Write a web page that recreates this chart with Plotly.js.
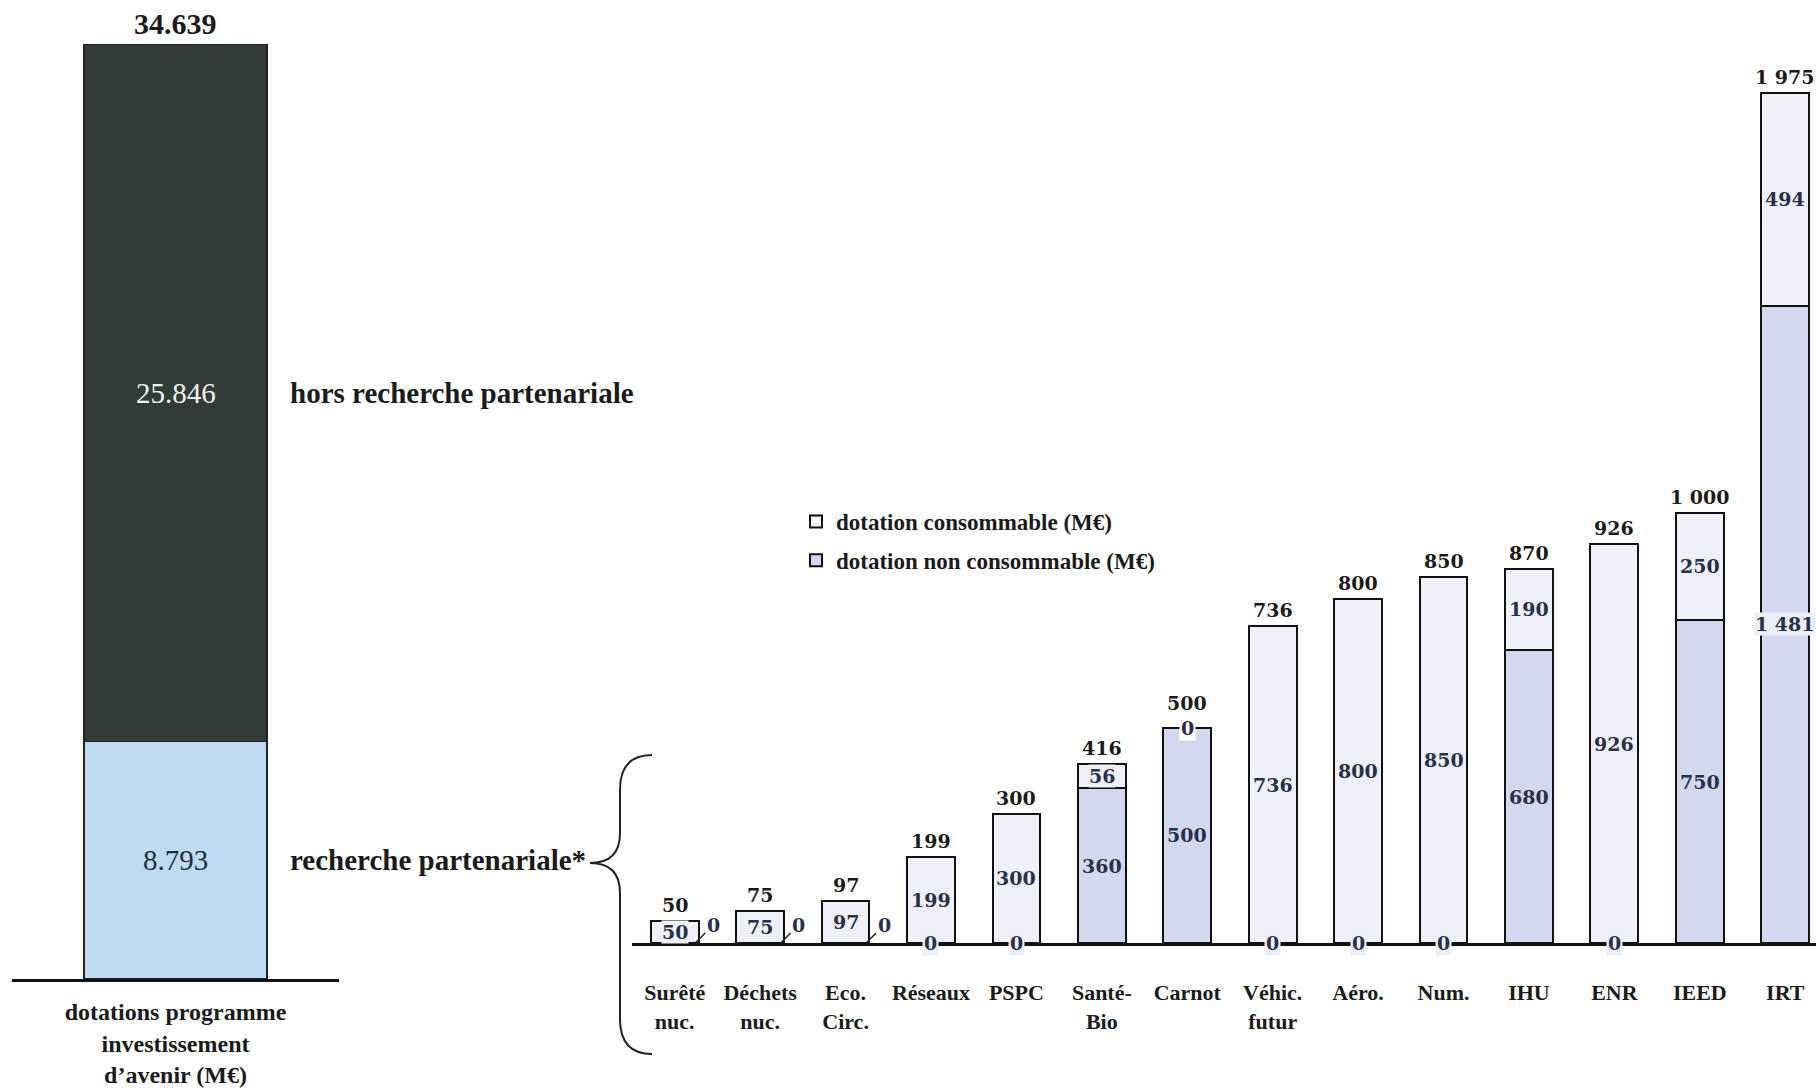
<!DOCTYPE html>
<html>
<head>
<meta charset="utf-8">
<script src="https://cdn.plot.ly/plotly-3.0.1.min.js"></script>
<style>html,body{margin:0;padding:0;background:#fff;}#chart{width:1816px;height:1092px;}</style>
</head>
<body>
<div id="chart"></div>
<script>
// ---- data ----
const leftCategory = ["dotations programme<br>investissement<br>d\u2019avenir (M€)"];
const recherchePartenariale = [8793];
const horsRecherchePartenariale = [25846];
const leftSegmentNames = ["recherche partenariale*", "hors recherche partenariale"];

const categories = ["Surêté<br>nuc.", "Déchets<br>nuc.", "Eco.<br>Circ.", "Réseaux", "PSPC", "Santé-<br>Bio",
  "Carnot", "Véhic.<br>futur", "Aéro.", "Num.", "IHU", "ENR", "IEED", "IRT"];
const dotationConsommable = [50, 75, 97, 199, 300, 56, 0, 736, 800, 850, 190, 926, 250, 494];
const dotationNonConsommable = [0, 0, 0, 0, 0, 360, 500, 0, 0, 0, 680, 0, 750, 1481];
const seriesNames = ["dotation consommable (M€)", "dotation non consommable (M€)"];

// ---- styling ----
const W = 1816, H = 1092;
const serif = "Liberation Serif";
const numFont = "DejaVu Serif";
const ink = "#1b1b1b";
const numInk = "#27304a";
const colCons = "#eff0fa";
const colNon = "#d4d8ef";
const colDark = "#313c38";
const colLight = "#bfdbf1";

const fmt = (n, sep) => String(n).replace(/\B(?=(\d{3})+(?!\d))/g, sep);
const px = x => x / W;
const py = y => 1 - y / H;

const leftTotal = recherchePartenariale[0] + horsRecherchePartenariale[0];

const traces = [
  {type: 'bar', x: leftCategory, y: recherchePartenariale, name: leftSegmentNames[0], xaxis: 'x', yaxis: 'y',
   marker: {color: colLight, line: {color: '#222', width: 1.5}}, width: 0.56, showlegend: false, hoverinfo: 'y'},
  {type: 'bar', x: leftCategory, y: horsRecherchePartenariale, name: leftSegmentNames[1], xaxis: 'x', yaxis: 'y',
   marker: {color: colDark, line: {color: '#222', width: 1.5}}, width: 0.56, showlegend: false, hoverinfo: 'y'},
  {type: 'bar', x: categories, y: dotationNonConsommable, name: seriesNames[1], xaxis: 'x2', yaxis: 'y2',
   legendgroup: 'non', legendrank: 2, marker: {color: colNon, line: {color: '#111', width: 2}}, width: 0.56},
  {type: 'bar', x: categories, y: dotationConsommable, name: seriesNames[0], xaxis: 'x2', yaxis: 'y2',
   legendgroup: 'cons', legendrank: 1, marker: {color: colCons, line: {color: '#111', width: 2}}, width: 0.56}
];

const annotations = [];
const numStyle = {family: numFont, size: 19, color: numInk, weight: 700};
const topStyle = {family: numFont, size: 19, color: ink, weight: 700};

// left bar labels
annotations.push({xref: 'x', yref: 'y', x: leftCategory[0], y: leftTotal, yanchor: 'bottom', yshift: 2, showarrow: false,
  text: fmt(leftTotal, '.'), font: {family: serif, size: 30, color: ink, weight: 700}});
annotations.push({xref: 'x', yref: 'y', x: leftCategory[0], y: recherchePartenariale[0] + horsRecherchePartenariale[0] / 2, showarrow: false,
  text: fmt(horsRecherchePartenariale[0], '.'), font: {family: serif, size: 29, color: '#f2f2f2'}});
annotations.push({xref: 'x', yref: 'y', x: leftCategory[0], y: recherchePartenariale[0] / 2, showarrow: false,
  text: fmt(recherchePartenariale[0], '.'), font: {family: serif, size: 29, color: '#1e2d45'}});
annotations.push({xref: 'paper', yref: 'y', x: px(288), xanchor: 'left', y: recherchePartenariale[0] + horsRecherchePartenariale[0] / 2, showarrow: false,
  text: leftSegmentNames[1], font: {family: serif, size: 29, color: ink, weight: 700}});
annotations.push({xref: 'paper', yref: 'y', x: px(288), xanchor: 'left', y: recherchePartenariale[0] / 2, showarrow: false,
  text: leftSegmentNames[0], font: {family: serif, size: 29, color: ink, weight: 700}});

// right bar labels
categories.forEach((c, i) => {
  const non = dotationNonConsommable[i], cons = dotationConsommable[i], tot = non + cons;
  annotations.push({xref: 'x2', yref: 'y2', x: c, y: tot, yanchor: 'bottom', yshift: cons === 0 ? 12 : 3, showarrow: false,
    text: fmt(tot, ' '), font: topStyle});
  if (cons > 0) annotations.push({xref: 'x2', yref: 'y2', x: c, y: non + cons / 2, showarrow: false,
    text: fmt(cons, ' '), font: numStyle, bgcolor: colCons, borderpad: 0});
  if (non > 0) annotations.push({xref: 'x2', yref: 'y2', x: c, y: non / 2, showarrow: false,
    text: fmt(non, ' '), font: numStyle, bgcolor: non >= 1000 ? '#eceef8' : colNon, borderpad: 0});
  if (non === 0 && cons < 150) {
    annotations.push({xref: 'x2', yref: 'y2', x: i + 0.24, y: 0, showarrow: true, arrowhead: 0, arrowwidth: 1.5,
      arrowcolor: '#222', ax: 18, ay: -18, text: '0', font: numStyle});
  } else if (non === 0) {
    annotations.push({xref: 'x2', yref: 'y2', x: c, y: 0, showarrow: false, text: '0', font: numStyle,
      bgcolor: '#eef0f8', borderpad: 1});
  } else if (cons === 0) {
    annotations.push({xref: 'x2', yref: 'y2', x: c, y: tot, showarrow: false, text: '0', font: numStyle,
      bgcolor: '#ffffff', borderpad: 1});
  }
});

// curly brace
const bp = [[652,755],[620,755],[620,790],[620,833],[620,863],[590,863],[620,863],[620,893],[620,1019],[620,1054],[652,1054]];
const P = p => px(p[0]).toFixed(5) + ',' + py(p[1]).toFixed(5);
const bracePath = 'M' + P(bp[0]) + ' Q' + P(bp[1]) + ' ' + P(bp[2]) + ' L' + P(bp[3]) + ' Q' + P(bp[4]) + ' ' + P(bp[5]) +
  ' Q' + P(bp[6]) + ' ' + P(bp[7]) + ' L' + P(bp[8]) + ' Q' + P(bp[9]) + ' ' + P(bp[10]);

const layout = {
  width: W, height: H,
  margin: {l: 0, r: 0, t: 0, b: 0},
  paper_bgcolor: '#ffffff', plot_bgcolor: 'rgba(0,0,0,0)',
  barmode: 'stack',
  showlegend: true,
  legend: {x: px(796), y: py(500), xanchor: 'left', yanchor: 'top', traceorder: 'grouped',
    font: {family: serif, size: 23, color: ink, weight: 700}, bgcolor: 'rgba(0,0,0,0)', tracegroupgap: 6},
  xaxis: {domain: [px(12), px(339)], range: [-0.5, 0.5], anchor: 'y', type: 'category',
    showline: true, linecolor: '#111', linewidth: 2.5, showgrid: false, zeroline: false,
    ticks: 'outside', ticklen: 10, tickcolor: 'rgba(0,0,0,0)',
    tickfont: {family: serif, size: 24, color: ink, weight: 700}},
  yaxis: {domain: [py(979), py(44)], range: [0, leftTotal], anchor: 'x', visible: false},
  xaxis2: {domain: [px(632), 1], range: [-0.5, 13.36], anchor: 'y2', type: 'category',
    showline: true, linecolor: '#111', linewidth: 2.5, showgrid: false, zeroline: false,
    ticks: 'outside', ticklen: 28, tickcolor: 'rgba(0,0,0,0)',
    tickfont: {family: serif, size: 22, color: ink, weight: 700}},
  yaxis2: {domain: [py(943), 1], range: [0, 943 / (850 / 1975)], anchor: 'x2', visible: false},
  annotations: annotations,
  shapes: [{type: 'path', xref: 'paper', yref: 'paper', path: bracePath, line: {color: '#222', width: 2}}]
};

Plotly.newPlot('chart', traces, layout, {displayModeBar: false, staticPlot: true});
</script>
</body>
</html>
